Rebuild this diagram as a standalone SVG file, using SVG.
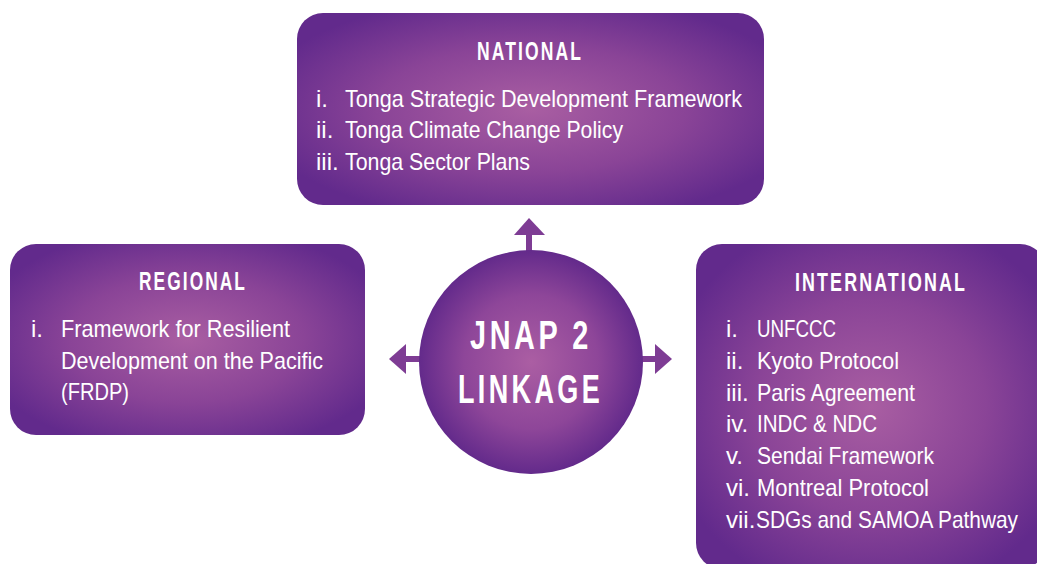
<svg xmlns="http://www.w3.org/2000/svg" width="1037" height="564" viewBox="0 0 1037 564">
<defs>
<radialGradient id="g" cx="0.5" cy="0.5" r="0.6">
<stop offset="0" stop-color="#a95ea2"/>
<stop offset="0.55" stop-color="#8a4497"/>
<stop offset="1" stop-color="#622a8c"/>
</radialGradient>
<radialGradient id="gc" cx="0.5" cy="0.5" r="0.5">
<stop offset="0" stop-color="#ab5ea3"/>
<stop offset="0.6" stop-color="#8e4699"/>
<stop offset="1" stop-color="#632a8b"/>
</radialGradient>
<style>
.hd{font-family:"Liberation Sans Narrow","Liberation Sans",Arial,sans-serif;font-weight:bold;font-size:25px;letter-spacing:3px;fill:#fff}
.tx{font-family:"Liberation Sans Narrow","Liberation Sans",Arial,sans-serif;font-size:24px;fill:#fff}
.ct{font-family:"Liberation Sans Narrow","Liberation Sans",Arial,sans-serif;font-weight:bold;font-size:40px;letter-spacing:5px;fill:#fff}
.ar{fill:#7e3c94}
</style>
</defs>
<rect width="1037" height="564" fill="#fff"/>
<g id="connectors">
<rect class="ar" x="526" y="233" width="6" height="20"/>
<polygon class="ar" points="529,218 545,235 514,235"/>
<rect class="ar" x="404" y="356" width="17" height="6"/>
<polygon class="ar" points="389,359 406,344 406,374"/>
<rect class="ar" x="640" y="356" width="17" height="6"/>
<polygon class="ar" points="672,359 655,344 655,374"/>
</g>
<g id="national">
<rect x="297" y="13" width="467" height="192" rx="26" fill="url(#g)"/>
<text class="hd" x="477" y="60" textLength="106" lengthAdjust="spacingAndGlyphs">NATIONAL</text>
<text class="tx" x="316" y="107">i.</text>
<text class="tx" x="345" y="107" textLength="397" lengthAdjust="spacingAndGlyphs">Tonga Strategic Development Framework</text>
<text class="tx" x="316" y="138">ii.</text>
<text class="tx" x="345" y="138" textLength="278" lengthAdjust="spacingAndGlyphs">Tonga Climate Change Policy</text>
<text class="tx" x="316" y="170">iii.</text>
<text class="tx" x="345" y="170" textLength="185" lengthAdjust="spacingAndGlyphs">Tonga Sector Plans</text>
</g>
<g id="regional">
<rect x="10" y="244" width="355" height="191" rx="26" fill="url(#g)"/>
<text class="hd" x="139" y="290" textLength="108" lengthAdjust="spacingAndGlyphs">REGIONAL</text>
<text class="tx" x="31" y="337">i.</text>
<text class="tx" x="61" y="337" textLength="229" lengthAdjust="spacingAndGlyphs">Framework for Resilient</text>
<text class="tx" x="61" y="369" textLength="262" lengthAdjust="spacingAndGlyphs">Development on the Pacific</text>
<text class="tx" x="61" y="400" textLength="68" lengthAdjust="spacingAndGlyphs">(FRDP)</text>
</g>
<g id="international">
<rect x="696" y="244" width="350" height="325" rx="26" fill="url(#g)"/>
<text class="hd" x="795" y="291" textLength="172" lengthAdjust="spacingAndGlyphs">INTERNATIONAL</text>
<text class="tx" x="726" y="337">i.</text>
<text class="tx" x="757" y="337" textLength="79" lengthAdjust="spacingAndGlyphs">UNFCCC</text>
<text class="tx" x="726" y="369">ii.</text>
<text class="tx" x="757" y="369" textLength="142" lengthAdjust="spacingAndGlyphs">Kyoto Protocol</text>
<text class="tx" x="726" y="401">iii.</text>
<text class="tx" x="757" y="401" textLength="158" lengthAdjust="spacingAndGlyphs">Paris Agreement</text>
<text class="tx" x="726" y="432">iv.</text>
<text class="tx" x="757" y="432" textLength="120" lengthAdjust="spacingAndGlyphs">INDC &amp; NDC</text>
<text class="tx" x="726" y="464">v.</text>
<text class="tx" x="757" y="464" textLength="177" lengthAdjust="spacingAndGlyphs">Sendai Framework</text>
<text class="tx" x="726" y="496">vi.</text>
<text class="tx" x="757" y="496" textLength="172" lengthAdjust="spacingAndGlyphs">Montreal Protocol</text>
<text class="tx" x="726" y="528">vii.</text>
<text class="tx" x="756" y="528" textLength="262" lengthAdjust="spacingAndGlyphs">SDGs and SAMOA Pathway</text>
</g>
<g id="center">
<circle cx="531" cy="362" r="112" fill="url(#gc)"/>
<text class="ct" x="470" y="349" textLength="122" lengthAdjust="spacingAndGlyphs">JNAP 2</text>
<text class="ct" x="458" y="403" textLength="145" lengthAdjust="spacingAndGlyphs">LINKAGE</text>
</g>
</svg>
